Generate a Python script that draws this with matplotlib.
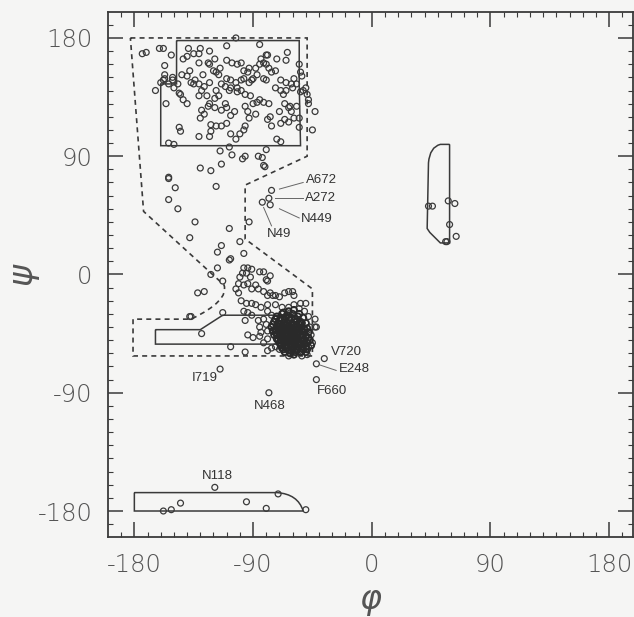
import numpy as np
import matplotlib.pyplot as plt
from matplotlib.path import Path
from matplotlib.patches import PathPatch

plt.rcParams['axes.unicode_minus'] = False

# phi/psi of residues
beta = [(-103,180),(-174,168),(-171,169),(-161,172),(-158,172),(-157,159),(-152,167),
	(-139,172),(-135,168),(-131,168),(-130,172),(-123,170),(-110,174),(-119,164),
	(-124,161),(-123,160),(-115,157),(-102,160),(-99,161),(-97,155),(-85,175),
	(-80,167),(-79,167),(-82,161),(-80,160),(-78,157),(-72,164),(-65,163),(-64,169),
	(-55,160),(-54,154),(-53,151),(-50,142),(-52,140),(-48,133),(-48,130),(-43,124),
	(-45,110),(-55,112),(-55,119),(-57,128),(-61,124),(-59,119),(-66,118),(-63,116),
	(-70,124),(-76,113),(-77,120),(-72,103),(-69,101),(-73,142),(-69,140),(-67,137),
	(-65,140),(-65,146),(-61,145),(-60,142),(-59,149),(-76,154),(-73,155),(-69,148),
	(-82,149),(-80,148),(-87,152),(-90,149),(-93,146),(-91,148),(-97,149),(-99,148),
	(-103,146),(-102,142),(-107,142),(-108,140),(-111,143),(-114,145),(-110,149),
	(-107,148),(-116,152),(-118,154),(-120,155),(-123,146),(-127,143),(-129,140),
	(-131,136),(-135,145),(-134,148),(-138,155),(-140,151),(-144,152),(-147,145),
	(-150,142),(-154,145),(-157,149),(-158,148),(-160,146),(-157,152),(-151,150),
	(-151,148),(-164,140),(-156,130),(-145,137),(-146,138),(-143,133),(-140,130),
	(-146,112),(-145,109),(-154,100),(-150,99),(-131,105),(-123,105),(-122,109),
	(-122,114),(-118,113),(-114,113),(-110,115),(-107,107),(-100,107),(-97,110),
	(-96,113),(-103,103),(-108,97),(-106,91),(-115,94),(-98,88),(-96,90),(-86,90),
	(-83,89),(-82,83),(-80,95),(-107,121),(-104,124),(-111,130),(-110,127),(-119,127),
	(-114,125),(-124,128),(-123,130),(-129,125),(-127,122),(-130,119),(-96,128),
	(-94,124),(-90,130),(-87,131),(-85,133),(-82,131),(-78,130),(-92,136),(-96,137),
	(-99,140),(-102,139),(-88,157),(-85,160),(-84,164),(-93,157),(-94,154),(-110,163),
	(-106,161),(-118,140),(-125,136),(-119,134),(-116,136),(-140,166),(-143,164),
	(-131,161),(-128,152),(-137,146),(-131,145),(-66,130),(-62,128),(-57,145),(-49,137),
	(-54,139),(-93,119),(-88,122),(-79,118),(-69,115),(-63,127),
	(-130,81),(-122,79),(-114,84),(-81,82)]

bridge = [(-154,73),(-154,74),(-149,66),(-154,57),(-147,50),(-118,67),(-134,40),(-138,28),
	(-93,40),(-108,35),(-100,25),(-114,22),(-117,17),(-97,16),(-108,11),(-107,12),
	(-122,0),(-117,5),(-113,-5),(-132,-14),(-127,-13),(-138,-32),(-137,-32),(-129,-45),
	(-113,-29),(-115,-72),(-78,-90)]

labelled = [(-76,64),(-78,58),(-77,53),(-83,55)]

alpha = [(-97,5),(-94,5),(-91,4),(-98,1),(-95,1),(-100,-2),(-92,-2),(-85,2),(-82,2),(-80,-4),
	(-77,-1),(-79,-5),(-101,-7),(-97,-8),(-103,-11),(-101,-14),(-94,-7),(-91,-11),
	(-88,-8),(-86,-11),(-82,-13),(-79,-16),(-77,-14),(-75,-16),(-73,-16),(-70,-17),
	(-66,-14),(-63,-13),(-60,-13),(-59,-16),(-54,-22),(-50,-22),(-99,-20),(-95,-22),
	(-91,-22),(-88,-23),(-97,-28),(-94,-29),(-91,-31),(-96,-35),(-94,-46),(-90,-48),
	(-86,-35),(-85,-40),(-82,-34),(-80,-38),(-79,-28),(-76,-31),(-84,-25),(-79,-23),
	(-73,-23),(-68,-25),(-63,-25),(-59,-23),(-55,-26),(-51,-28),(-48,-32),(-43,-34),
	(-47,-40),(-43,-40),(-46,-46),(-45,-52),(-48,-55),(-49,-61),(-54,-59),(-53,-62),
	(-59,-55),(-63,-62),(-66,-59),(-70,-57),(-73,-55),(-76,-56),(-79,-49),(-82,-52),
	(-85,-47),(-84,-44),(-79,-43),(-76,-40),(-96,-59),(-107,-55),(-79,-58),(-42,-40),
	(-36,-64),(-42,-68),(-42,-80)]

helix_core = [(-72,-32),(-68,-30),(-64,-31),(-60,-30),(-56,-32),(-52,-33),
	(-74,-36),(-70,-35),(-66,-34),(-62,-35),(-58,-34),(-54,-36),(-50,-37),
	(-76,-40),(-72,-39),(-69,-38),(-65,-39),(-61,-38),(-57,-40),(-53,-40),(-49,-41),
	(-75,-43),(-71,-42),(-67,-43),(-63,-42),(-59,-43),(-55,-44),(-51,-44),
	(-74,-46),(-70,-45),(-66,-46),(-62,-45),(-58,-47),(-54,-46),(-50,-48),
	(-72,-49),(-68,-48),(-64,-49),(-60,-50),(-56,-50),(-52,-51),
	(-70,-52),(-66,-52),(-62,-53),(-58,-54),(-54,-53),(-50,-55),
	(-68,-56),(-64,-56),(-60,-57),(-56,-57),(-66,-59),(-62,-60),(-58,-59),
	(-70,-38),(-66,-41),(-62,-40),(-58,-42),(-64,-37),(-60,-45),(-56,-42),(-68,-44),
	(-64,-47),(-60,-48),(-56,-48),(-62,-51),(-58,-52),(-66,-49),(-70,-47),(-61,-43),
	(-65,-44),(-59,-38),(-63,-33),(-67,-37),(-55,-38),(-53,-48),(-57,-55),(-61,-55),
	(-65,-54),(-69,-50),(-73,-44),(-71,-37),(-55,-30),(-59,-27),(-63,-28),(-67,-29),
	(-48,-44),(-47,-50),(-49,-52),(-52,-57),(-54,-59),(-50,-59),
	(-73,-34),(-69,-33),(-65,-32),(-61,-33),(-57,-36),(-53,-37),(-75,-38),(-71,-40),
	(-67,-40),(-63,-39),(-59,-40),(-55,-41),(-51,-42),(-73,-42),(-69,-42),(-65,-42),
	(-61,-41),(-57,-45),(-53,-43),(-72,-46),(-68,-47),(-64,-45),(-60,-46),(-56,-45),
	(-52,-46),(-71,-50),(-67,-51),(-63,-50),(-59,-51),(-55,-52),(-51,-53),(-69,-54),
	(-65,-56),(-61,-58),(-57,-58),(-53,-55),(-63,-58),(-59,-61),(-67,-57),(-49,-57),
	(-46,-54),(-48,-48),(-51,-50),(-70,-43),(-62,-48),(-58,-49),(-64,-52),(-60,-53)]

left_handed = [(43,52),(46,52),(58,56),(63,54),(59,38),(56,25),(57,25),(64,29)]

bottom = [(-158,-180),(-152,-179),(-145,-174),(-119,-162),(-95,-173),(-80,-178),
	(-71,-167),(-50,-179)]

# labelled residues: name, text x, text y, ha, leader line (x0, y0, x1, y1)
labels = [('A672', -50, 72, 'left', (-70, 65, -52, 70)),
	('A272', -51, 58, 'left', (-73, 58, -52, 58)),
	('N449', -54, 42, 'left', (-70, 50, -55, 43)),
	('N49', -70, 31, 'center', (-82, 51, -76, 37)),
	('V720', -31, -59, 'left', None),
	('E248', -25, -72, 'left', (-39, -69, -27, -73)),
	('F660', -30, -89, 'center', None),
	('I719', -127, -79, 'center', None),
	('N468', -77, -100, 'center', None),
	('N118', -117, -153, 'center', None)]

# region outlines
dashed_v = [(-183,180),(-49,180),(-49,90),(-96,68),(-96,27),(-45,-11),(-45,-62),(-181,-62),
	(-181,-34),(-137,-34),(-108,-20),(-112,-8),(-173,48),(-183,180)]
dashed_c = [1,2,2,2,2,2,2,2,2,2,3,3,2,2]
beta_box = [(-148,178),(-55,178),(-55,145),(-54,98),(-160,98),(-160,145),(-148,145),(-148,178)]
alpha_box = [(-164,-42),(-130,-42),(-113,-31),(-57,-31),(-57,-53),(-164,-53),(-164,-42)]
lh_v = [(59,99),(59,24),(52,24),(44,32),(42,35),(43,85),(44,97),(52,99),(59,99)]
lh_c = [1,2,2,2,2,2,3,3,2]
bot_v = [(-180,-166),(-72,-166),(-56,-167),(-52,-180),(-180,-180),(-180,-166)]
bot_c = [1,2,3,3,2,2]

bg = '#f5f5f4'
ink = '#3a3a3a'
fig = plt.figure(figsize=(6.34, 6.17), dpi=100, facecolor=bg)
ax = fig.add_axes([0.1703, 0.1292, 0.828, 0.8519], facecolor=bg)

def outline(verts, codes, **kw):
	p = Path(np.array(verts, float), codes)
	ax.add_patch(PathPatch(p, fill=False, edgecolor=ink, **kw))

outline(dashed_v, dashed_c, lw=1.2, linestyle=(0, (3, 2.5)))
outline(beta_box, None, lw=1.1)
outline(alpha_box, None, lw=1.1)
outline(lh_v, lh_c, lw=1.1)
outline(bot_v, bot_c, lw=1.1)

for grp in [beta, bridge, labelled, alpha, left_handed, bottom]:
	a = np.array(grp, float)
	ax.scatter(a[:, 0], a[:, 1], s=18, facecolors='none', edgecolors=ink, linewidths=0.9, zorder=3)
a = np.array(helix_core, float)
ax.scatter(a[:, 0], a[:, 1], s=20, facecolors='none', edgecolors='#2a2a2a', linewidths=1.3, zorder=3)

for name, tx, ty, ha, line in labels:
	ax.text(tx, ty, name, ha=ha, va='center', fontsize=9.5, color='#333333',
		family='Liberation Sans')
	if line:
		ax.plot([line[0], line[2]], [line[1], line[3]], color='#666666', lw=0.7)

ax.set_xlim(-200, 198)
ax.set_ylim(-200, 200)
ticks = [-180, -90, 0, 90, 180]
ax.set_xticks(ticks)
ax.set_yticks(ticks)
ax.set_xticks(np.arange(-190, 200, 10), minor=True)
ax.set_yticks(np.arange(-190, 200, 10), minor=True)
ax.tick_params(which='major', direction='in', length=11, width=1.1, color=ink,
	top=True, right=True, labelsize=17.5, labelcolor='#555555', pad=11)
ax.tick_params(which='minor', direction='in', length=3.5, width=0.8, color=ink,
	top=True, right=True)
for lab in ax.get_xticklabels() + ax.get_yticklabels():
	lab.set_fontweight('light')
for s in ax.spines.values():
	s.set_linewidth(1.3)
	s.set_color(ink)

ax.set_xlabel(r'$\varphi$', fontsize=24, color='#555555', labelpad=6)
ax.set_ylabel(r'$\psi$', fontsize=24, color='#555555')
ax.yaxis.set_label_coords(-0.125, 0.5)

fig.savefig('out.png', dpi=100, facecolor=bg)
